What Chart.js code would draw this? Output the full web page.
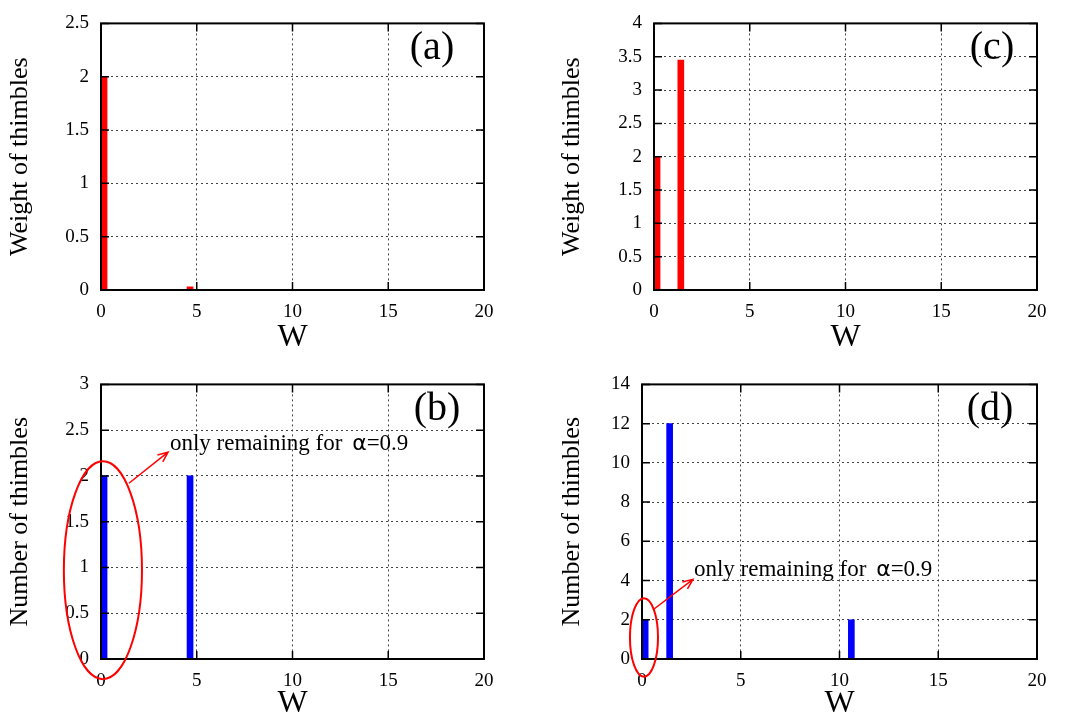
<!DOCTYPE html>
<html>
<head>
<meta charset="utf-8">
<script src="https://cdn.jsdelivr.net/npm/chart.js@4.4.1/dist/chart.umd.min.js"></script>
<style>
html, body { margin: 0; padding: 0; background: #fff; }
#wrap { position: relative; width: 1068px; height: 722px; }
canvas { position: absolute; }
</style>
</head>
<body>
<div id="wrap">
  <canvas id="pa" width="534" height="361" style="left:0;top:0"></canvas>
  <canvas id="pc" width="534" height="361" style="left:534px;top:0"></canvas>
  <canvas id="pb" width="534" height="361" style="left:0;top:361px"></canvas>
  <canvas id="pd" width="534" height="361" style="left:534px;top:361px"></canvas>
</div>
<script>
const SERIF = '"Liberation Serif", "Times New Roman", serif';

// W positions of the thimbles
const wLeft = [0.16, 4.65];          // panels (a), (b)
const wRight = [0.16, 1.4, 10.6];    // panels (c), (d)

// values
const weightA = [2.0, 0.03];
const numberB = [2, 2];
const weightC = [2.0, 3.45, 0.01];
const numberD = [2, 12, 2];

// tick labels
const xTicks = [0, 5, 10, 15, 20];
const yTicksA = [0, 0.5, 1, 1.5, 2, 2.5];
const yTicksB = [0, 0.5, 1, 1.5, 2, 2.5, 3];
const yTicksC = [0, 0.5, 1, 1.5, 2, 2.5, 3, 3.5, 4];
const yTicksD = [0, 2, 4, 6, 8, 10, 12, 14];

const noteText = 'only remaining for ';
const noteAlpha = 'α';
const noteTail = '=0.9';

// annotations in data units: ellipse [cx, cy, rx, ry], arrow from/to, text anchor
const noteB = { ellipse: [0.1, 0.97, 2.04, 1.19], from: [1.46, 1.92], to: [3.5, 2.26], text: [3.6, 2.28] };
const noteD = { ellipse: [0.1, 1.1, 0.71, 2.0], from: [0.56, 2.51], to: [2.58, 4.06], text: [2.63, 4.21] };

const tickLabel = v => String(+v.toFixed(2));

const framePlugin = {
    id: 'frame',
    afterDatasetsDraw(chart, args, opts) {
        const { ctx, chartArea: a, scales: { x, y } } = chart;
        ctx.save();
        ctx.strokeStyle = '#000';
        ctx.lineWidth = 1.5;
        ctx.beginPath();
        x.ticks.forEach(t => {
            const px = x.getPixelForValue(t.value);
            ctx.moveTo(px, a.bottom); ctx.lineTo(px, a.bottom - 8);
            ctx.moveTo(px, a.top); ctx.lineTo(px, a.top + 8);
        });
        y.ticks.forEach(t => {
            const py = y.getPixelForValue(t.value);
            ctx.moveTo(a.left, py); ctx.lineTo(a.left + 8, py);
            ctx.moveTo(a.right, py); ctx.lineTo(a.right - 8, py);
        });
        ctx.stroke();
        ctx.lineWidth = 2;
        ctx.strokeRect(a.left, a.top, a.width, a.height);

        // panel label
        ctx.fillStyle = '#000';
        ctx.font = '40px ' + SERIF;
        ctx.textAlign = 'center';
        ctx.textBaseline = 'middle';
        ctx.fillText(opts.label, a.right - opts.labelDx, a.top + 25);

        const n = opts.note;
        if (n) {
            ctx.strokeStyle = '#f00';
            ctx.fillStyle = '#000';
            // ellipse
            const cx = x.getPixelForValue(n.ellipse[0]);
            const cy = y.getPixelForValue(n.ellipse[1]);
            const rx = x.getPixelForValue(n.ellipse[0] + n.ellipse[2]) - cx;
            const ry = cy - y.getPixelForValue(n.ellipse[1] + n.ellipse[3]);
            ctx.lineWidth = 2;
            ctx.beginPath();
            ctx.ellipse(cx, cy, rx, ry, 0, 0, Math.PI * 2);
            ctx.stroke();
            // arrow
            const x1 = x.getPixelForValue(n.from[0]), y1 = y.getPixelForValue(n.from[1]);
            const x2 = x.getPixelForValue(n.to[0]), y2 = y.getPixelForValue(n.to[1]);
            const ang = Math.atan2(y2 - y1, x2 - x1);
            ctx.lineWidth = 1.5;
            ctx.beginPath();
            ctx.moveTo(x1, y1); ctx.lineTo(x2, y2);
            ctx.moveTo(x2 - 11 * Math.cos(ang - 0.4), y2 - 11 * Math.sin(ang - 0.4));
            ctx.lineTo(x2, y2);
            ctx.lineTo(x2 - 11 * Math.cos(ang + 0.4), y2 - 11 * Math.sin(ang + 0.4));
            ctx.stroke();
            // text
            let tx = x.getPixelForValue(n.text[0]);
            const ty = y.getPixelForValue(n.text[1]);
            ctx.textAlign = 'left';
            ctx.textBaseline = 'alphabetic';
            ctx.font = '23px ' + SERIF;
            ctx.fillText(noteText, tx, ty);
            tx += ctx.measureText(noteText).width + 4;
            ctx.font = '22px "DejaVu Sans", sans-serif';
            ctx.fillText(noteAlpha, tx, ty);
            tx += ctx.measureText(noteAlpha).width;
            ctx.font = '23px ' + SERIF;
            ctx.fillText(noteTail, tx, ty);
        }
        ctx.restore();
    }
};

function makePanel(id, pos, values, color, yTicks, yTitle, lay, label, note) {
    return new Chart(document.getElementById(id), {
        type: 'bar',
        data: {
            datasets: [{
                data: pos.map((w, i) => ({ x: w, y: values[i] })),
                backgroundColor: color,
                borderWidth: 0,
                barThickness: 6
            }]
        },
        plugins: [framePlugin],
        options: {
            responsive: false,
            animation: false,
            events: [],
            layout: { padding: { left: 0, top: lay.top, right: lay.right, bottom: 0 } },
            plugins: {
                legend: { display: false },
                tooltip: { enabled: false },
                frame: { label, note, labelDx: lay.labelDx }
            },
            scales: {
                x: {
                    type: 'linear',
                    min: xTicks[0],
                    max: xTicks[xTicks.length - 1],
                    offset: false,
                    grid: { offset: false, color: '#444', lineWidth: 1, drawTicks: false },
                    border: { display: false, dash: [2, 3] },
                    ticks: {
                        stepSize: xTicks[1] - xTicks[0],
                        padding: 11,
                        color: '#000',
                        font: { family: SERIF, size: 19 },
                        callback: tickLabel
                    },
                    title: {
                        display: true,
                        text: 'W',
                        color: '#000',
                        font: { family: SERIF, size: 32, lineHeight: 1 },
                        padding: { top: 0, bottom: lay.xTitlePad }
                    },
                    afterFit: s => { s.height = lay.xHeight; }
                },
                y: {
                    type: 'linear',
                    min: yTicks[0],
                    max: yTicks[yTicks.length - 1],
                    grid: { color: '#444', lineWidth: 1, drawTicks: false },
                    border: { display: false, dash: [2, 3] },
                    ticks: {
                        stepSize: yTicks[1] - yTicks[0],
                        padding: 12,
                        color: '#000',
                        font: { family: SERIF, size: 19 },
                        callback: tickLabel
                    },
                    title: {
                        display: true,
                        text: yTitle,
                        color: '#000',
                        font: { family: SERIF, size: 26, lineHeight: 1 },
                        padding: { top: lay.yTitlePad, bottom: 0 }
                    },
                    afterFit: s => { s.width = lay.yWidth; }
                }
            }
        }
    });
}

makePanel('pa', wLeft, weightA, '#ff0000', yTicksA, 'Weight of thimbles',
    { yWidth: 101, xHeight: 71, top: 11, right: 50, yTitlePad: 7, xTitlePad: 7, labelDx: 52 }, '(a)', null);
makePanel('pb', wLeft, numberB, '#0000ff', yTicksB, 'Number of thimbles',
    { yWidth: 101, xHeight: 63, top: 19, right: 50, yTitlePad: 7, xTitlePad: 2, labelDx: 47 }, '(b)', noteB);
makePanel('pc', wRight, weightC, '#ff0000', yTicksC, 'Weight of thimbles',
    { yWidth: 120, xHeight: 71, top: 11, right: 31, yTitlePad: 25, xTitlePad: 7, labelDx: 45 }, '(c)', null);
makePanel('pd', wRight, numberD, '#0000ff', yTicksD, 'Number of thimbles',
    { yWidth: 108, xHeight: 63, top: 19, right: 31, yTitlePad: 25, xTitlePad: 2, labelDx: 47 }, '(d)', noteD);
</script>
</body>
</html>
